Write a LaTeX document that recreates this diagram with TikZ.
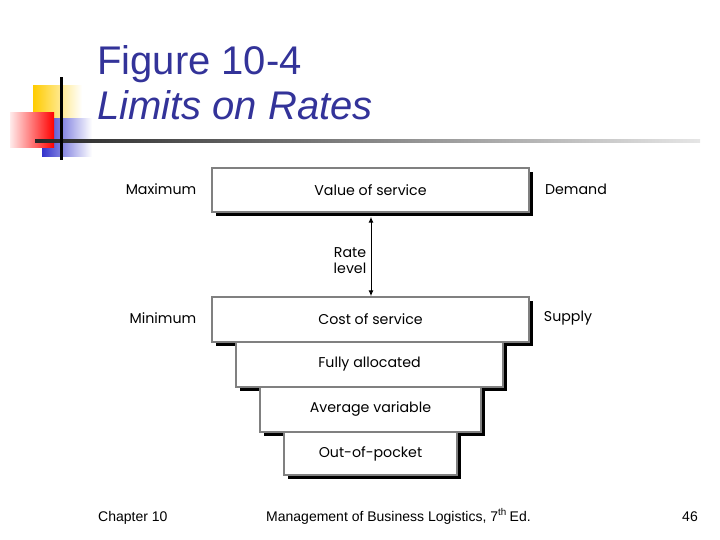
\documentclass[tikz,border=0pt]{standalone}
\usepackage{fontspec}
\setmainfont{Liberation Sans}
\newfontfamily\diagfont{Poppins}
\usetikzlibrary{shadows,arrows.meta}
\definecolor{titleblue}{RGB}{51,51,153}
\definecolor{boxgray}{RGB}{128,128,128}
\definecolor{deco yellow}{RGB}{255,204,0}
\definecolor{deco red}{RGB}{255,0,0}
\definecolor{deco blue}{RGB}{51,51,204}
\tikzset{
  tier/.style={draw=boxgray, line width=1.5pt, fill=white, inner sep=0pt,
    font=\diagfont\fontsize{14.2}{16}\selectfont,
    drop shadow={shadow xshift=4pt, shadow yshift=-4pt, fill=black, opacity=1}},
  side/.style={font=\diagfont\fontsize{14.2}{16}\selectfont, inner sep=0pt},
  foot/.style={font=\fontsize{14}{16}\selectfont, inner sep=0pt, anchor=base},
}
\begin{document}
\begin{tikzpicture}[x=1pt,y=-1pt]
\useasboundingbox (0,0) rectangle (720,540);
% decoration
\shade[left color=deco yellow, right color=white] (33,86) rectangle (82,121);
\shade[left color=deco blue, right color=white] (42,119) rectangle (92,157);
\shade[left color=red!8, right color=deco red] (10,113) rectangle (54,148);
\shade[left color=black!85, right color=black!10] (35,139.5) rectangle (700,142.5);
\fill[black] (60,77) rectangle (62.5,160);
% title
\node[anchor=base west, inner sep=0pt, text=titleblue, font=\fontsize{40}{44}\selectfont] (t1) at (97,75) {Figure 10-4};
\node[anchor=base west, inner sep=0pt, text=titleblue, font=\fontsize{40}{44}\selectfont\itshape] (t2) at (97,120) {Limits on Rates};
% tiers
\node[tier, minimum width=317pt, minimum height=44pt] (b1) at (370.5,190) {\raisebox{-1pt}{Value of service}};
\node[tier, minimum width=317pt, minimum height=45pt] (b2) at (370.5,319.5) {\raisebox{-1pt}{Cost of service}};
\node[tier, minimum width=267pt, minimum height=45pt] (b3) at (369.5,364.5) {\raisebox{-2pt}{Fully allocated}};
\node[tier, minimum width=221pt, minimum height=45pt] (b4) at (370.5,409.5) {\raisebox{-1.5pt}{Average variable}};
\node[tier, minimum width=173pt, minimum height=43pt] (b5) at (370.5,453.5) {\raisebox{-1.5pt}{Out-of-pocket}};
% side labels
\node[side] (max) at (161,189) {Maximum};
\node[side] (dem) at (576,189) {Demand};
\node[side] (min) at (163,318) {Minimum};
\node[side] (sup) at (568,318) {Supply};
\node[side, align=center] (rate) at (350,260.5) {Rate\\level};
% arrow
\coordinate (ax) at (371,0);
\draw[line width=1pt, shorten <=4pt, {Latex[length=6pt,width=5pt]}-{Latex[length=6pt,width=5pt]}] (b1.south -| ax) -- (b2.north -| ax);
% footer
\node[foot, anchor=base west] (f1) at (98,521) {Chapter 10};
\node[foot, anchor=base west] (f2) at (266,521) {Management of Business Logistics, 7\textsuperscript{th}\kern-1pt{} Ed.};
\node[foot, anchor=base east] (f3) at (698,521) {46};
\end{tikzpicture}
\end{document}
